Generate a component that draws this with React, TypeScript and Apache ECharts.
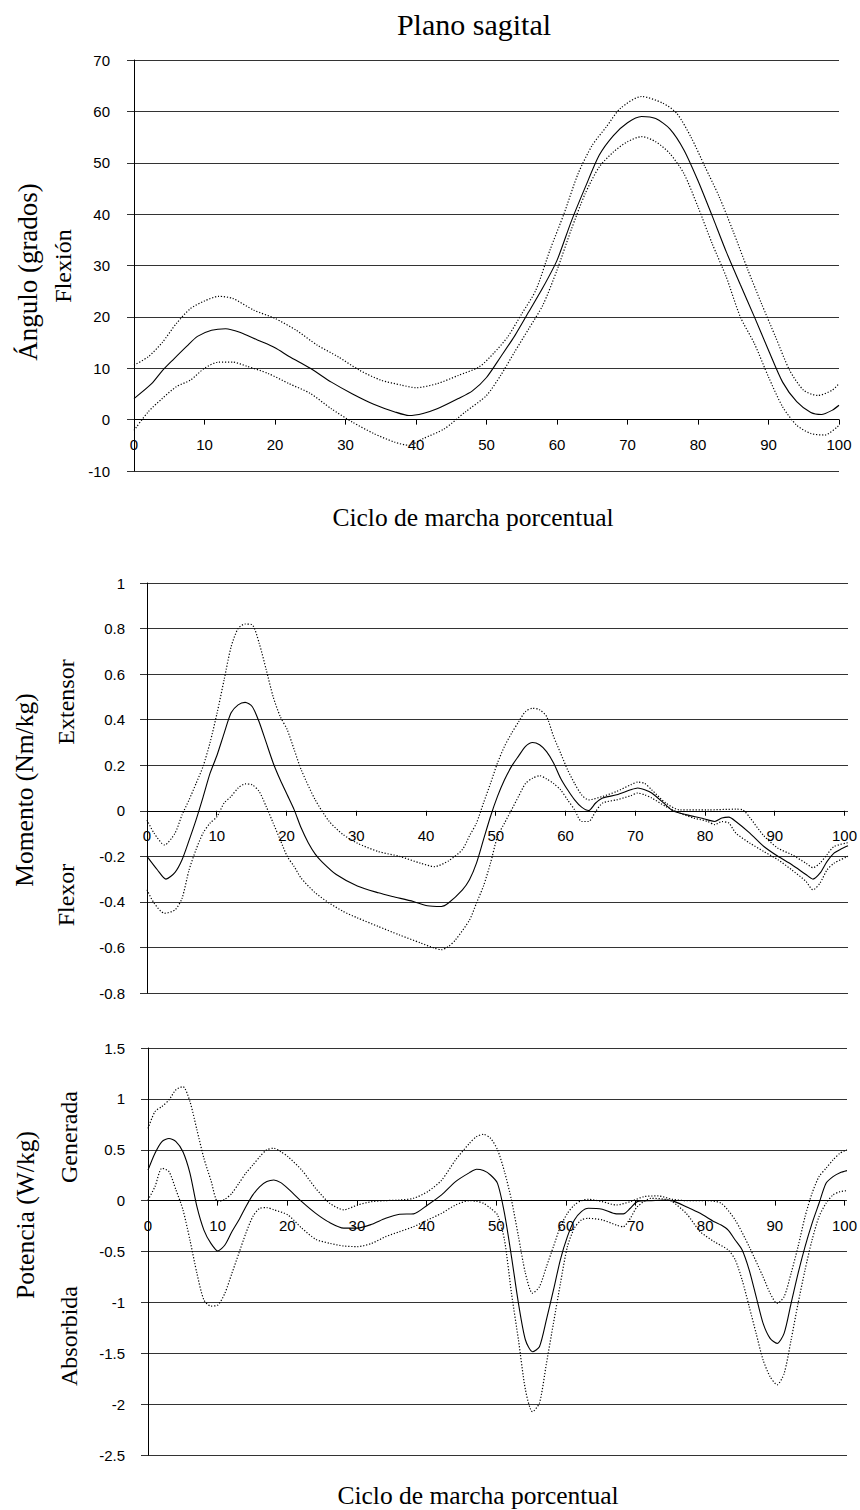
import React, { useEffect, useRef } from "react";
import * as echarts from "echarts";

// ---------- Data ----------
const xTickInterval = 10;

// Chart 1: Ángulo (grados)
const anguloMedia: [number, number][] = [
  [0, 4.1], [2.5, 7], [4, 9.5], [5.5, 11.6], [7.5, 14.3], [9, 16.2], [11, 17.4], [13, 17.7], [15, 17],
  [17.5, 15.5], [20, 14], [22, 12.3], [25, 10], [28, 7.3], [31, 5], [34, 3], [37, 1.5], [39, 0.8],
  [41, 1.2], [43, 2.1], [46, 4.1], [48, 5.6], [50, 8.2], [52, 12.2], [54, 16.3], [56, 21], [58, 25.7],
  [60, 31], [62, 38.5], [64, 45.2], [66, 51.5], [68, 55.3], [70, 57.8], [72, 59], [74, 58.6], [76, 56.6],
  [78, 52.5], [80, 46.5], [82, 39.7], [84, 32.7], [86, 26.3], [88, 20], [90, 13.5], [92, 7.3], [94, 3.5],
  [96, 1.4], [97.5, 1], [99, 1.8], [100, 2.8],
];
const anguloSup: [number, number][] = [
  [0, 10.6], [2, 12.2], [4, 15], [6, 18.7], [8, 21.6], [10, 23.1], [12, 24], [14, 23.6], [17, 21.3],
  [20, 19.7], [23, 17.4], [26, 14.5], [29, 12.2], [32, 9.6], [35, 7.7], [38, 6.7], [40, 6.2], [43, 7],
  [46, 8.6], [49, 10.3], [51, 12.9], [53, 16.1], [55, 20.6], [57, 25.2], [59, 33], [61, 40.1], [63, 47.9],
  [65, 53.4], [67, 57], [69, 60.6], [72, 62.9], [75, 61.6], [77, 59.6], [79, 55], [81, 49.2], [83, 43.4],
  [85, 36.6], [87, 29.4], [89, 22.6], [91, 16.1], [93, 9.6], [95, 5.7], [97, 4.7], [99, 5.7], [100, 7],
];
const anguloInf: [number, number][] = [
  [0, -2.1], [2, 1.5], [4, 4.1], [6, 6.4], [8, 7.7], [10, 10], [12, 11.2], [14, 11.2], [16, 10.4],
  [19, 9], [22, 7], [25, 5.1], [28, 2.1], [31, -0.5], [34, -2.7], [37, -4.4], [39, -5], [41, -3.7],
  [44, -1.8], [47, 1.5], [50, 4.7], [52, 8.6], [54, 13.2], [56, 17.7], [58, 22.3], [60, 29.1], [62, 36.9],
  [64, 44], [66, 49.2], [68, 52.1], [70, 54.1], [72, 55.1], [74, 54.1], [76, 51.8], [78, 47.9], [80, 41.4],
  [82, 34.3], [84, 27.8], [86, 20], [88, 14.8], [90, 8.3], [92, 2.5], [94, -1.1], [96, -2.7], [98, -3],
  [100, -1.1],
];

// Chart 2: Momento (Nm/kg)
const momentoMedia: [number, number][] = [
  [0, -0.2], [1.5, -0.26], [2.7, -0.3], [4, -0.27], [5, -0.215], [6, -0.13], [7, -0.04], [8, 0.06],
  [9, 0.165], [10, 0.245], [11, 0.34], [12, 0.43], [13, 0.465], [14, 0.476], [15, 0.458], [16, 0.39],
  [17, 0.3], [18, 0.21], [19, 0.136], [20, 0.07], [21, 0.004], [22, -0.076], [23, -0.14], [24, -0.19],
  [25, -0.225], [27, -0.28], [30, -0.33], [33, -0.36], [35, -0.376], [38, -0.398], [40, -0.417],
  [42, -0.42], [43, -0.405], [45, -0.347], [46, -0.303], [47, -0.23], [48, -0.127], [49, -0.025],
  [50, 0.063], [51, 0.136], [52, 0.195], [53, 0.24], [54, 0.283], [55, 0.3], [56, 0.29], [57, 0.26],
  [58, 0.21], [59, 0.143], [60, 0.092], [61, 0.048], [62, 0.016], [63, 0.001], [64, 0.034], [65, 0.056],
  [67, 0.07], [69, 0.092], [70, 0.1], [71, 0.092], [72, 0.078], [74, 0.026], [75, 0], [77, -0.018],
  [79, -0.032], [80, -0.04], [81, -0.047], [82, -0.032], [83, -0.028], [84, -0.047], [86, -0.098],
  [88, -0.157], [90, -0.2], [92, -0.237], [94, -0.28], [95, -0.3], [96, -0.274], [97, -0.223],
  [98, -0.186], [99, -0.168], [100, -0.154],
];
const momentoSup: [number, number][] = [
  [0, -0.04], [1, -0.098], [2.5, -0.15], [4, -0.098], [5, -0.018], [6, 0.048], [7, 0.12], [8, 0.195],
  [9, 0.3], [10, 0.43], [11, 0.575], [12, 0.72], [13, 0.8], [14, 0.82], [15, 0.817], [16, 0.736],
  [17, 0.62], [18, 0.5], [19, 0.414], [20, 0.356], [21, 0.268], [22, 0.18], [24, 0.048], [26, -0.047],
  [28, -0.105], [30, -0.142], [33, -0.179], [36, -0.2], [39, -0.23], [41, -0.245], [43, -0.22],
  [45, -0.17], [46, -0.11], [47, -0.054], [48, 0.034], [49, 0.12], [50, 0.21], [51, 0.283], [52, 0.34],
  [53, 0.39], [54, 0.436], [55, 0.45], [56, 0.444], [57, 0.414], [58, 0.326], [59, 0.253], [60, 0.18],
  [61, 0.12], [62, 0.07], [63, 0.048], [65, 0.063], [67, 0.085], [69, 0.114], [70, 0.126], [71, 0.12],
  [72, 0.092], [74, 0.034], [76, 0.004], [80, 0.004], [84, 0.007], [85, 0.004], [86, -0.03], [88, -0.11],
  [90, -0.164], [92, -0.193], [94, -0.23], [95, -0.25], [96, -0.23], [97, -0.193], [98, -0.157],
  [100, -0.14],
];
const momentoInf: [number, number][] = [
  [0, -0.347], [1, -0.405], [2.5, -0.45], [4, -0.435], [5, -0.384], [6, -0.26], [7, -0.17], [8, -0.098],
  [9, -0.054], [10, -0.025], [11, 0.034], [12, 0.063], [13, 0.1], [14, 0.118], [15, 0.114], [16, 0.085],
  [17, 0.019], [18, -0.054], [19, -0.127], [20, -0.2], [21, -0.245], [22, -0.296], [24, -0.36],
  [26, -0.405], [28, -0.442], [30, -0.47], [33, -0.508], [36, -0.545], [39, -0.58], [41, -0.603],
  [42, -0.61], [43, -0.596], [44, -0.567], [46, -0.48], [47, -0.405], [48, -0.33], [49, -0.23],
  [50, -0.113], [51, -0.054], [52, 0.004], [53, 0.063], [54, 0.12], [55, 0.143], [56, 0.154], [57, 0.14],
  [58, 0.12], [59, 0.092], [60, 0.048], [61, 0.004], [62, -0.047], [63, -0.047], [64, -0.003],
  [65, 0.034], [67, 0.048], [69, 0.066], [70, 0.078], [71, 0.07], [72, 0.056], [74, 0.019], [76, -0.01],
  [78, -0.032], [80, -0.047], [81, -0.061], [82, -0.047], [83, -0.054], [84, -0.098], [86, -0.142],
  [88, -0.179], [90, -0.215], [92, -0.26], [94, -0.31], [95, -0.347], [96, -0.318], [97, -0.26],
  [98, -0.23], [100, -0.2],
];

// Chart 3: Potencia (W/kg)
const potenciaMedia: [number, number][] = [
  [0, 0.3], [1, 0.466], [2, 0.58], [3, 0.61], [4, 0.58], [5, 0.48], [6, 0.27], [7, -0.06], [8, -0.29],
  [9, -0.42], [10, -0.495], [11, -0.436], [12, -0.305], [13, -0.19], [14, -0.06], [15, 0.056],
  [16, 0.138], [17, 0.187], [18, 0.203], [19, 0.177], [20, 0.12], [22, -0.01], [24, -0.125],
  [26, -0.216], [28, -0.27], [30, -0.27], [32, -0.233], [34, -0.174], [36, -0.134], [38, -0.13],
  [40, -0.043], [42, 0.056], [44, 0.187], [46, 0.275], [47, 0.308], [48, 0.295], [49, 0.252], [50, 0.17],
  [51, -0.125], [52, -0.55], [53, -1.01], [54, -1.37], [55, -1.485], [56, -1.436], [57, -1.17],
  [58, -0.88], [59, -0.58], [60, -0.354], [61, -0.19], [62, -0.108], [63, -0.075], [65, -0.085],
  [67, -0.13], [68, -0.13], [69, -0.075], [70, -0.01], [72, 0], [74, 0.006], [75, 0], [77, -0.06],
  [79, -0.125], [81, -0.207], [82, -0.24], [83, -0.29], [84, -0.387], [85, -0.485], [86, -0.68],
  [87, -0.944], [88, -1.207], [89, -1.354], [90, -1.403], [91, -1.305], [92, -1.01], [93, -0.715],
  [94, -0.452], [95, -0.223], [96, -0.026], [97, 0.17], [98, 0.236], [99, 0.275], [100, 0.295],
];
const potenciaSup: [number, number][] = [
  [0, 0.71], [1, 0.875], [2, 0.925], [3, 0.99], [4, 1.09], [5, 1.12], [6, 0.974], [7, 0.695], [8, 0.416],
  [9, 0.2], [10, -0.01], [11, 0.013], [12, 0.072], [13, 0.17], [14, 0.27], [15, 0.35], [16, 0.433],
  [17, 0.5], [18, 0.515], [19, 0.48], [20, 0.433], [22, 0.3], [24, 0.12], [26, -0.026], [28, -0.09],
  [30, -0.043], [32, -0.01], [34, 0], [36, 0.006], [38, 0.023], [40, 0.088], [42, 0.2], [44, 0.4],
  [46, 0.564], [47, 0.63], [48, 0.652], [49, 0.613], [50, 0.5], [51, 0.285], [52, 0.006], [53, -0.354],
  [54, -0.715], [55, -0.91], [56, -0.846], [57, -0.65], [58, -0.452], [59, -0.256], [60, -0.125],
  [61, -0.043], [62, 0], [63, 0.013], [65, -0.01], [67, -0.043], [69, -0.01], [71, 0.04], [73, 0.046],
  [75, 0.013], [77, 0], [80, 0], [82, -0.026], [84, -0.19], [86, -0.452], [88, -0.75], [89, -0.91],
  [90, -1.01], [91, -0.944], [92, -0.715], [93, -0.452], [94, -0.157], [95, 0.072], [96, 0.236],
  [97, 0.318], [98, 0.4], [99, 0.466], [100, 0.5],
];
const potenciaInf: [number, number][] = [
  [0, 0.006], [1, 0.138], [2, 0.318], [3, 0.285], [4, 0.105], [5, -0.09], [6, -0.387], [7, -0.715],
  [8, -0.977], [9, -1.036], [10, -1.026], [11, -0.91], [12, -0.715], [13, -0.518], [14, -0.32],
  [15, -0.157], [16, -0.075], [17, -0.069], [18, -0.09], [20, -0.14], [22, -0.27], [24, -0.38],
  [26, -0.42], [28, -0.446], [30, -0.452], [32, -0.42], [34, -0.354], [36, -0.305], [38, -0.256],
  [40, -0.19], [42, -0.125], [44, -0.043], [46, 0], [47, -0.007], [48, -0.026], [49, -0.075], [50, -0.14],
  [51, -0.387], [52, -0.91], [53, -1.37], [54, -1.86], [55, -2.075], [56, -1.99], [57, -1.6], [58, -1.207],
  [59, -0.813], [60, -0.452], [61, -0.27], [62, -0.19], [63, -0.174], [65, -0.19], [67, -0.24],
  [68, -0.256], [69, -0.174], [70, -0.06], [72, 0.023], [74, 0.013], [75, -0.01], [77, -0.125],
  [79, -0.305], [81, -0.403], [83, -0.485], [84, -0.58], [85, -0.78], [86, -1.04], [87, -1.305],
  [88, -1.567], [89, -1.73], [90, -1.81], [91, -1.7], [92, -1.37], [93, -1.01], [94, -0.68], [95, -0.387],
  [96, -0.157], [97, -0.026], [98, 0.056], [99, 0.088], [100, 0.098],
];

const yRanges = [
  { min: -10, max: 70, interval: 10 },
  { min: -0.8, max: 1, interval: 0.2 },
  { min: -2.5, max: 1.5, interval: 0.5 },
];

// ---------- Styling ----------
const SERIF = "Liberation Serif";
const SANS = "Liberation Sans";
const GRID_COLOR = "#333";
const TICK_FONT = 15;

const grids = [
  { left: 134, top: 60, width: 705, height: 411 },
  { left: 147, top: 583, width: 701, height: 410 },
  { left: 148, top: 1048, width: 699, height: 407 },
];
const yLabelMargin = [24, 22, 23];

function buildOption() {
  // Thin helper grids whose bottom edge lies on the y = 0 line of each chart,
  // so the x axis (line, ticks, labels) crosses at zero like the original.
  const zeroGrids = grids.map((g, i) => {
    const r = yRanges[i];
    const zeroY = g.top + (g.height * r.max) / (r.max - r.min);
    return { left: g.left, width: g.width, top: zeroY - 20, height: 20 };
  });

  const xAxis: any[] = [];
  const yAxis: any[] = [];
  grids.forEach((_, i) => {
    xAxis.push({
      type: "value",
      gridIndex: i,
      min: 0,
      max: 100,
      interval: xTickInterval,
      axisLine: { show: false },
      axisTick: { show: false },
      axisLabel: { show: false },
      splitLine: { show: false },
    });
    yAxis.push({
      type: "value",
      gridIndex: i,
      min: yRanges[i].min,
      max: yRanges[i].max,
      interval: yRanges[i].interval,
      axisLine: { show: true, onZero: false, lineStyle: { color: "#000", width: 1 } },
      axisTick: { show: true, length: 7, lineStyle: { color: GRID_COLOR } },
      axisLabel: {
        color: "#000",
        fontFamily: SANS,
        fontSize: TICK_FONT,
        margin: yLabelMargin[i],
        formatter: (v: number) => String(Math.round(v * 100) / 100),
      },
      splitLine: { show: true, lineStyle: { color: GRID_COLOR, width: 1 } },
    });
  });
  zeroGrids.forEach((_, i) => {
    xAxis.push({
      type: "value",
      gridIndex: 3 + i,
      position: "bottom",
      min: 0,
      max: 100,
      interval: xTickInterval,
      axisLine: { show: true, onZero: false, lineStyle: { color: "#000", width: 1 } },
      axisTick: { show: true, length: 5, lineStyle: { color: "#000" } },
      axisLabel: { color: "#000", fontFamily: SANS, fontSize: TICK_FONT, margin: 17 },
      splitLine: { show: false },
    });
    yAxis.push({
      type: "value",
      gridIndex: 3 + i,
      min: 0,
      max: 1,
      show: false,
    });
  });

  const sets = [
    [anguloMedia, anguloSup, anguloInf],
    [momentoMedia, momentoSup, momentoInf],
    [potenciaMedia, potenciaSup, potenciaInf],
  ];
  const series: any[] = [];
  sets.forEach((set, i) => {
    set.forEach((data, j) => {
      series.push({
        type: "line",
        xAxisIndex: i,
        yAxisIndex: i,
        data,
        showSymbol: false,
        symbol: "none",
        smooth: 0.25,
        z: j === 0 ? 4 : 3,
        lineStyle:
          j === 0
            ? { color: "#000", width: 1.1, type: "solid" }
            : { color: "#000", width: 1.2, type: [1.2, 1.8] },
      });
    });
  });

  const txt = (text: string, x: number, y: number, size: number, rot = 0) => ({
    type: "text",
    x,
    y,
    rotation: rot,
    z: 10,
    style: {
      text,
      fill: "#000",
      font: `${size}px "${SERIF}"`,
      textAlign: "center",
      textVerticalAlign: "middle",
    },
  });
  const R = Math.PI / 2;
  const graphic = [
    txt("Plano sagital", 474, 24, 30),
    txt("Ciclo de marcha porcentual", 473, 517, 25.5),
    txt("Ciclo de marcha porcentual", 478, 1495, 25.5),
    txt("Ángulo (grados)", 28, 272, 27, R),
    txt("Flexión", 63, 266, 24, R),
    txt("Momento (Nm/kg)", 24, 790, 25.5, R),
    txt("Extensor", 66, 702, 24, R),
    txt("Flexor", 66, 895, 24, R),
    txt("Potencia (W/kg)", 25, 1215, 25.5, R),
    txt("Generada", 69, 1137, 24, R),
    txt("Absorbida", 69, 1336, 24, R),
  ];

  return {
    animation: false,
    backgroundColor: "#fff",
    grid: [...grids, ...zeroGrids].map((g) => ({ ...g, containLabel: false })),
    xAxis,
    yAxis,
    series,
    graphic,
  };
}

export default function App() {
  const ref = useRef<HTMLDivElement>(null);
  useEffect(() => {
    document.body.style.margin = "0";
    const chart = echarts.init(ref.current as HTMLDivElement, null, { renderer: "svg" });
    chart.setOption(buildOption() as any);
    return () => chart.dispose();
  }, []);
  return <div ref={ref} style={{ width: 860, height: 1510 }} />;
}
